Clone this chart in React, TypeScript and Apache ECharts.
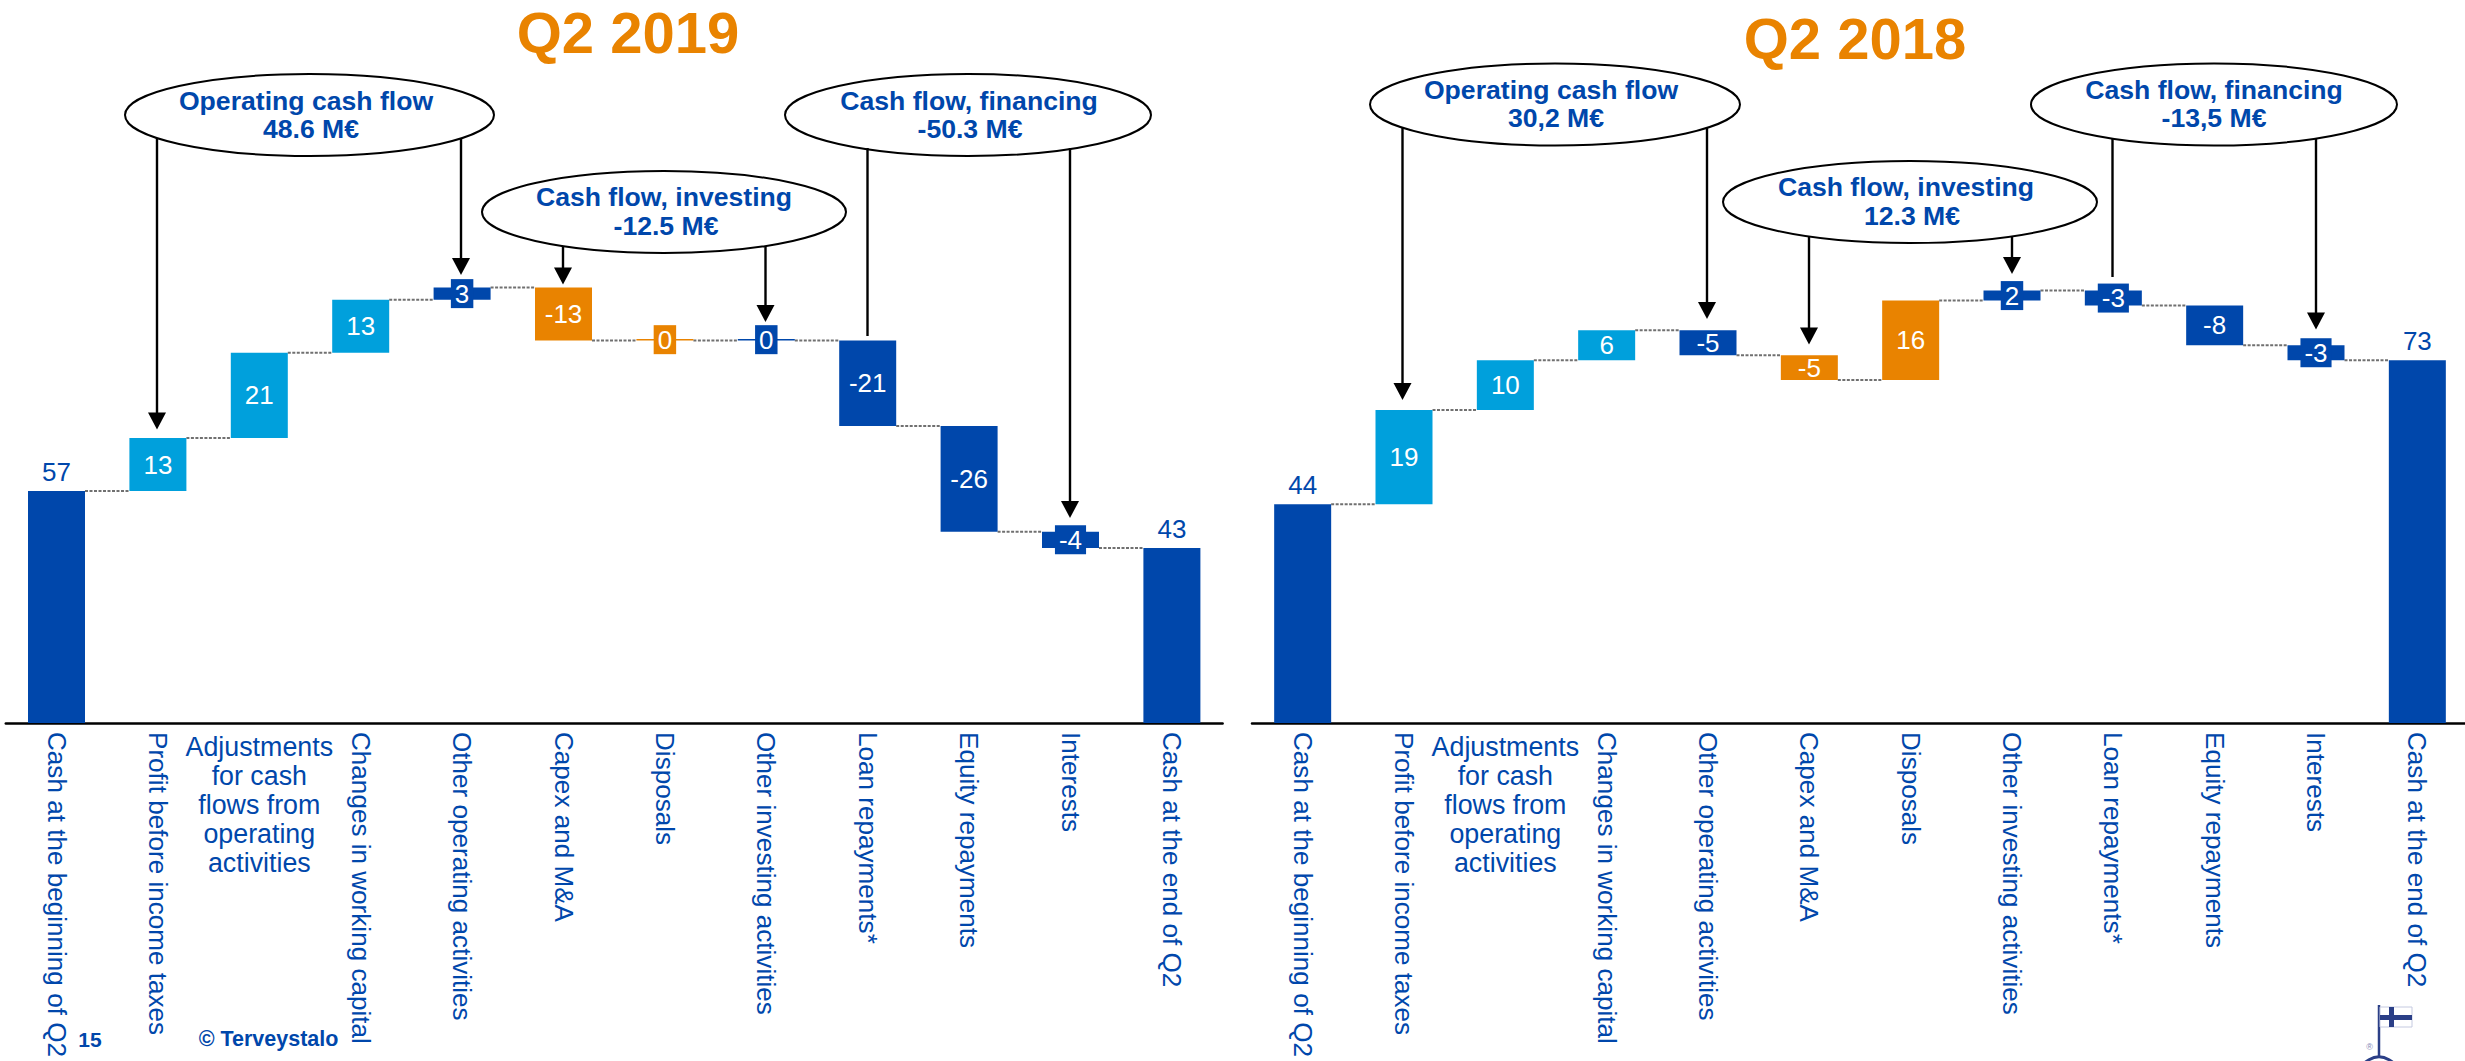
import React, { useEffect, useRef } from "react";
import * as echarts from "echarts";

const FONT = "Liberation Sans";
const DARK = "#0047AB";
const LIGHT = "#00A0DC";
const ORANGE = "#E98300";
const TYPE_COLORS: Record<string, string> = { t: DARK, o: LIGHT, i: ORANGE, f: DARK };

const CATEGORIES = [
  "Cash at the beginning of Q2",
  "Profit before income taxes",
  "Adjustments\nfor cash\nflows from\noperating\nactivities",
  "Changes in working capital",
  "Other operating activities",
  "Capex and M&A",
  "Disposals",
  "Other investing activities",
  "Loan repayments*",
  "Equity repayments",
  "Interests",
  "Cash at the end of Q2",
];

const VALUES_2019 = [57, 13, 21, 13, 3, -13, 0, 0, -21, -26, -4, 43];
const TYPES_2019 = ["t", "o", "o", "o", "f", "i", "i", "f", "f", "f", "f", "t"];
const VALUES_2018 = [44, 19, 10, 6, -5, -5, 16, 2, -3, -8, -3, 73];
const TYPES_2018 = ["t", "o", "o", "o", "f", "i", "i", "f", "f", "f", "f", "t"];

const BAR_WIDTH = 57;
const AXIS_Y = 723;
const GRID_TOP = 100;
// Steps smaller than this cannot hold their label, so it gets its own box.
const BOXED_BELOW = 5;

// One waterfall panel: a transparent base stacked under the visible step.
function panel(index: number, values: number[], types: string[], axisMax: number) {
  const levels: number[] = [];
  const bases: number[] = [];
  const sizes: number[] = [];
  let run = 0;
  values.forEach((v, i) => {
    const total = i === 0 || i === values.length - 1;
    const next = total ? v : run + v;
    bases.push(total ? 0 : Math.min(run, next));
    sizes.push(Math.abs(v));
    levels.push(next);
    run = next;
  });
  const stack = `steps${index}`;
  const series: any[] = [
    {
      type: "custom",
      xAxisIndex: index * 2,
      yAxisIndex: index,
      z: 1,
      silent: true,
      data: levels.slice(0, -1).map((l, i) => [i, l]),
      renderItem: (_p: any, api: any) => {
        const c = api.coord([api.value(0), api.value(1)]);
        const band = api.size([1, 0])[0];
        return {
          type: "line",
          shape: {
            x1: c[0] + BAR_WIDTH / 2,
            y1: c[1],
            x2: c[0] + band - BAR_WIDTH / 2,
            y2: c[1],
          },
          style: { stroke: "#707070", lineWidth: 2, lineDash: [3, 1.5] },
        };
      },
    },
    {
      type: "bar",
      xAxisIndex: index * 2,
      yAxisIndex: index,
      stack,
      barWidth: BAR_WIDTH,
      silent: true,
      z: 2,
      itemStyle: { color: "transparent" },
      data: bases,
    },
    {
      type: "bar",
      xAxisIndex: index * 2,
      yAxisIndex: index,
      stack,
      barWidth: BAR_WIDTH,
      barMinHeight: 1.5,
      z: 3,
      data: sizes.map((s, i) => {
        const total = i === 0 || i === sizes.length - 1;
        const color = TYPE_COLORS[types[i]];
        return {
          value: s,
          itemStyle: { color },
          label: total
            ? {
                show: true,
                position: "top",
                distance: 6,
                color: DARK,
                fontSize: 26,
                fontFamily: FONT,
                formatter: String(values[i]),
              }
            : {
                show: true,
                position: "inside",
                color: "#FFFFFF",
                fontSize: 26,
                fontFamily: FONT,
                lineHeight: 29,
                ...(s < BOXED_BELOW ? { backgroundColor: color, padding: [0, 4] } : {}),
                formatter: String(values[i]),
              },
        };
      }),
    },
  ];
  const grid = {
    left: index === 0 ? 5.8 : 1252,
    top: GRID_TOP,
    width: index === 0 ? 1216.8 : 1216,
    height: AXIS_Y - GRID_TOP,
    // Long rotated labels run to the page edge; the plot keeps its size regardless.
    outerBoundsMode: "none",
  };
  const isWrapped = (v: string) => v.includes("\n");
  const xAxes = [
    {
      type: "category",
      gridIndex: index,
      data: CATEGORIES,
      axisTick: { show: false },
      axisLine: { lineStyle: { color: "#000000", width: 2.5 } },
      axisLabel: {
        interval: 0,
        rotate: -90,
        margin: 9,
        color: DARK,
        fontSize: 26.1,
        fontFamily: FONT,
        hideOverlap: false,
        formatter: (v: string) => (isWrapped(v) ? "" : v),
      },
    },
    {
      type: "category",
      gridIndex: index,
      position: "bottom",
      data: CATEGORIES,
      axisTick: { show: false },
      axisLine: { show: false },
      axisLabel: {
        interval: 0,
        margin: 9,
        color: DARK,
        fontSize: 26.8,
        lineHeight: 29,
        fontFamily: FONT,
        hideOverlap: false,
        formatter: (v: string) => (isWrapped(v) ? v : ""),
      },
    },
  ];
  const yAxis = { type: "value", gridIndex: index, min: 0, max: axisMax, show: false };
  return { series, grid, xAxes, yAxis };
}

const CALLOUT_STYLE = { fill: DARK, fontSize: 26.6, fontWeight: "bold", fontFamily: FONT };

function callout(
  cx: number,
  cy: number,
  rx: number,
  ry: number,
  lines: [string, number, number][],
) {
  return [
    {
      type: "ellipse",
      z: 20,
      shape: { cx, cy, rx, ry },
      style: { fill: "#FFFFFF", stroke: "#000000", lineWidth: 2 },
    },
    ...lines.map(([text, x, y]) => ({
      type: "text",
      z: 21,
      x,
      y,
      style: { ...CALLOUT_STYLE, text, textAlign: "center", textVerticalAlign: "middle" },
    })),
  ];
}

function leader(x: number, y1: number, y2: number, head = true) {
  const items: any[] = [
    {
      type: "line",
      z: 22,
      shape: { x1: x, y1, x2: x, y2: head ? y2 - 8 : y2 },
      style: { stroke: "#000000", lineWidth: 2.4 },
    },
  ];
  if (head) {
    items.push({
      type: "polygon",
      z: 22,
      shape: { points: [[x - 9, y2 - 17], [x + 9, y2 - 17], [x, y2]] },
      style: { fill: "#000000" },
    });
  }
  return items;
}

const NAVY = "#2B3F87";

// Key-flag mark in the lower right corner.
const keyFlag = [
  {
    type: "circle",
    z: 30,
    shape: { cx: 2379, cy: 1077, r: 20 },
    style: { fill: "none", stroke: NAVY, lineWidth: 3 },
  },
  {
    type: "line",
    z: 30,
    shape: { x1: 2379, y1: 1005, x2: 2379, y2: 1058 },
    style: { stroke: NAVY, lineWidth: 2.5 },
  },
  {
    type: "rect",
    z: 30,
    shape: { x: 2380, y: 1007, width: 32, height: 20 },
    style: { fill: "#FFFFFF", stroke: "#C5CAE0", lineWidth: 1 },
  },
  { type: "rect", z: 31, shape: { x: 2389, y: 1007, width: 5, height: 20 }, style: { fill: NAVY } },
  { type: "rect", z: 31, shape: { x: 2380, y: 1015, width: 32, height: 5 }, style: { fill: NAVY } },
  {
    type: "text",
    z: 30,
    x: 2369.5,
    y: 1047,
    style: { text: "®", fill: "#7F8AB8", fontSize: 9, fontFamily: FONT, textAlign: "center", textVerticalAlign: "middle" },
  },
];

const footer = [
  {
    type: "text",
    z: 30,
    x: 90,
    y: 1039,
    style: { text: "15", fill: DARK, fontSize: 21, fontWeight: "bold", fontFamily: FONT, textAlign: "center", textVerticalAlign: "middle" },
  },
  {
    type: "text",
    z: 30,
    x: 268.5,
    y: 1039,
    style: { text: "© Terveystalo", fill: DARK, fontSize: 21.5, fontWeight: "bold", fontFamily: FONT, textAlign: "center", textVerticalAlign: "middle" },
  },
];

export default function App() {
  const ref = useRef<HTMLDivElement>(null);

  useEffect(() => {
    document.body.style.margin = "0";
    document.body.style.overflow = "hidden";
    const chart = echarts.init(ref.current!, undefined, { renderer: "svg" });

    const a = panel(0, VALUES_2019, TYPES_2019, (AXIS_Y - GRID_TOP) / 4.07);
    const b = panel(1, VALUES_2018, TYPES_2018, (AXIS_Y - GRID_TOP) / 4.97);

    chart.setOption({
      animation: false,
      backgroundColor: "#FFFFFF",
      title: [
        { text: "Q2 2019", left: 623, top: -2, textAlign: "center", textStyle: { color: ORANGE, fontSize: 58, fontWeight: "bold", fontFamily: FONT } },
        { text: "Q2 2018", left: 1850, top: 4, textAlign: "center", textStyle: { color: ORANGE, fontSize: 58, fontWeight: "bold", fontFamily: FONT } },
      ],
      grid: [a.grid, b.grid],
      xAxis: [...a.xAxes, ...b.xAxes],
      yAxis: [a.yAxis, b.yAxis],
      series: [...a.series, ...b.series],
      graphic: {
        elements: [
          // Q2 2019 callouts
          ...callout(309.5, 115, 184.5, 41, [["Operating cash flow", 306, 100.5], ["48.6 M€", 311, 128.5]]),
          ...callout(968, 115, 183, 41, [["Cash flow, financing", 969, 100.5], ["-50.3 M€", 970, 128.5]]),
          ...callout(664, 212, 182, 41, [["Cash flow, investing", 664, 197], ["-12.5 M€", 666, 225.5]]),
          ...leader(157, 138, 429.5),
          ...leader(461, 138, 275),
          ...leader(563, 246, 284.5),
          ...leader(765.5, 246, 322),
          ...leader(867.5, 148, 336, false),
          ...leader(1070, 148, 518),
          // Q2 2018 callouts
          ...callout(1555, 104.5, 185, 41, [["Operating cash flow", 1551, 90], ["30,2 M€", 1556, 118]]),
          ...callout(2214, 104.5, 183, 41, [["Cash flow, financing", 2214, 90], ["-13,5 M€", 2214, 118]]),
          ...callout(1910, 202, 187, 41, [["Cash flow, investing", 1906, 187], ["12.3 M€", 1912, 216]]),
          ...leader(1402.5, 127.5, 400),
          ...leader(1707, 127.5, 319),
          ...leader(1809, 236, 344.5),
          ...leader(2012, 236, 274),
          ...leader(2112.5, 139, 277, false),
          ...leader(2316, 139, 329.5),
          ...footer,
          ...keyFlag,
        ],
      },
    });

    return () => chart.dispose();
  }, []);

  return <div ref={ref} style={{ width: 2465, height: 1061 }} />;
}
